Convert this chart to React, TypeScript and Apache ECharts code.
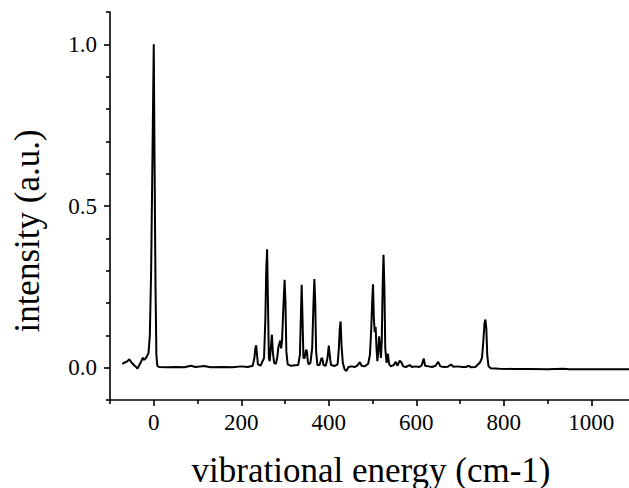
import React, { useEffect, useRef } from "react";
import * as echarts from "echarts";

// Spectrum (energy in cm-1, intensity in a.u.)
const energy: number[] = [
  -72, -66, -60, -56, -52, -48, -44, -40, -37, -33, -29, -25, -22, -19, -16, -12, -9, -6, -3, 0,
  2, 4, 6, 8, 12, 30, 50, 70, 85, 95, 115, 130, 160, 180, 200, 215, 226, 230, 232, 234,
  236, 238, 244, 252, 255, 257, 259, 261, 263, 265, 268, 270, 272, 275, 279, 282, 285, 289, 291, 293,
  296, 299, 301, 303, 306, 313, 330, 334, 336, 338, 340, 342, 345, 348, 350, 352, 354, 358, 362, 365,
  367, 369, 371, 374, 379, 383, 385, 388, 393, 397, 400, 402, 405, 413, 420, 423, 425, 427, 429, 432,
  436, 440, 445, 452, 460, 466, 471, 475, 482, 490, 494, 497, 499, 501, 503, 505, 507, 509, 511, 513,
  515, 517, 519, 521, 523, 525, 527, 529, 532, 535, 538, 542, 548, 553, 557, 562, 566, 570, 576, 585,
  590, 598, 606, 612, 615, 617, 620, 628, 636, 644, 650, 655, 663, 672, 679, 685, 695, 705, 713, 720,
  725, 735, 745, 750, 753, 756, 758, 760, 762, 765, 770, 790, 820, 860, 900, 935, 950, 1000, 1050, 1086,
];
const intensity: number[] = [
  0.012, 0.016, 0.02, 0.026, 0.018, 0.012, 0.006, 0.002, -0.003, 0.008, 0.018, 0.031, 0.024, 0.028, 0.034, 0.045, 0.1, 0.3, 0.65, 1.0,
  0.6, 0.25, 0.04, 0.006, 0.002, 0.001, 0.002, 0.001, 0.006, 0.002, 0.005, 0.001, 0.002, 0.001, 0.004, 0.002, 0.006, 0.03, 0.058, 0.069,
  0.04, 0.01, 0.006, 0.03, 0.15, 0.3, 0.366, 0.2, 0.03, 0.02, 0.07, 0.102, 0.05, 0.015, 0.012, 0.03, 0.065, 0.084, 0.06, 0.08,
  0.18, 0.272, 0.2, 0.05, 0.01, 0.006, 0.008, 0.04, 0.15, 0.256, 0.15, 0.03, 0.03, 0.056, 0.05, 0.02, 0.01, 0.015, 0.06, 0.2,
  0.274, 0.2, 0.05, 0.008, 0.008, 0.028, 0.03, 0.008, 0.006, 0.03, 0.068, 0.04, 0.008, 0.005, 0.01, 0.06, 0.12, 0.143, 0.07, 0.015,
  -0.005, -0.01, 0.002, 0.004, 0.002, 0.008, 0.017, 0.006, 0.004, 0.012, 0.04, 0.12, 0.2, 0.258, 0.15, 0.11, 0.126, 0.06, 0.02, 0.05,
  0.097, 0.07, 0.03, 0.08, 0.25, 0.349, 0.25, 0.06, 0.015, 0.043, 0.01, 0.004, 0.008, 0.018, 0.006, 0.022, 0.016, 0.004, 0.002, 0.008,
  0.002, 0.004, 0.002, 0.006, 0.02, 0.028, 0.006, 0.004, 0.002, 0.006, 0.018, 0.004, 0.002, 0.003, 0.01, 0.003, 0.004, 0.002, 0.002, 0.006,
  0.001, 0.002, 0.015, 0.03, 0.08, 0.14, 0.149, 0.12, 0.04, 0.004, -0.002, -0.003, -0.004, -0.004, -0.005, -0.003, -0.005, -0.005, -0.005, -0.005,
];

const xMajorTicks: number[] = [0, 200, 400, 600, 800, 1000];
const xMinorTicks: number[] = [-100, 100, 300, 500, 700, 900];
const yMajorTicks: number[] = [0, 0.5, 1.0];
const yMinorTicks: number[] = [-0.1, 0.1, 0.2, 0.3, 0.4, 0.6, 0.7, 0.8, 0.9, 1.1];

const xTitle = "vibrational energy (cm-1)";
const yTitle = "intensity (a.u.)";

const X_MIN = -100;
const X_MAX = 1086;
const Y_MIN = -0.1;
const Y_MAX = 1.1;

const FONT = "'Liberation Serif', serif";

export default function App() {
  const ref = useRef<HTMLDivElement>(null);

  useEffect(() => {
    if (!ref.current) return;
    const chart = echarts.init(ref.current, undefined, { renderer: "svg" });
    const points = energy.map((e, i) => [e, intensity[i]]);
    const gridBox = { left: 110, right: 0, top: 12, bottom: 88, containLabel: false };
    const lineStyle = { color: "#000", width: 1.6 };

    chart.setOption({
      animation: false,
      backgroundColor: "#fff",
      grid: [gridBox, { ...gridBox }],
      xAxis: [
        {
          type: "value",
          gridIndex: 0,
          min: X_MIN,
          max: X_MAX,
          axisLine: { show: true, onZero: false, lineStyle },
          axisTick: { show: true, customValues: xMajorTicks, length: 6, lineStyle },
          axisLabel: {
            customValues: xMajorTicks,
            color: "#000",
            fontFamily: FONT,
            fontSize: 23,
            margin: 11,
            formatter: (v: number) => String(Math.round(v)),
          },
          splitLine: { show: false },
        },
        {
          type: "value",
          gridIndex: 1,
          min: X_MIN,
          max: X_MAX,
          axisLine: { show: false, onZero: false },
          axisTick: { show: true, customValues: xMinorTicks, length: 4, lineStyle },
          axisLabel: { show: false },
          splitLine: { show: false },
        },
      ],
      yAxis: [
        {
          type: "value",
          gridIndex: 0,
          min: Y_MIN,
          max: Y_MAX,
          axisLine: { show: true, onZero: false, lineStyle },
          axisTick: { show: true, customValues: yMajorTicks, length: 6, lineStyle },
          axisLabel: {
            customValues: yMajorTicks,
            color: "#000",
            fontFamily: FONT,
            fontSize: 23,
            margin: 13,
            formatter: (v: number) => v.toFixed(1),
          },
          splitLine: { show: false },
        },
        {
          type: "value",
          gridIndex: 1,
          min: Y_MIN,
          max: Y_MAX,
          axisLine: { show: false, onZero: false },
          axisTick: { show: true, customValues: yMinorTicks, length: 4, lineStyle },
          axisLabel: { show: false },
          splitLine: { show: false },
        },
      ],
      graphic: [
        {
          type: "text",
          x: 371,
          y: 470,
          style: {
            text: xTitle,
            font: `35px ${FONT}`,
            fill: "#000",
            textAlign: "center",
            textVerticalAlign: "middle",
          },
        },
        {
          type: "text",
          x: 27,
          y: 231,
          rotation: Math.PI / 2,
          style: {
            text: yTitle,
            font: `35px ${FONT}`,
            fill: "#000",
            textAlign: "center",
            textVerticalAlign: "middle",
          },
        },
      ],
      series: [
        {
          type: "line",
          xAxisIndex: 0,
          yAxisIndex: 0,
          data: points,
          showSymbol: false,
          symbol: "none",
          lineStyle: { color: "#000", width: 2 },
          clip: true,
        },
      ],
    });

    return () => chart.dispose();
  }, []);

  return (
    <div
      ref={ref}
      style={{ position: "fixed", left: 0, top: 0, width: 629, height: 488, background: "#fff" }}
    />
  );
}
